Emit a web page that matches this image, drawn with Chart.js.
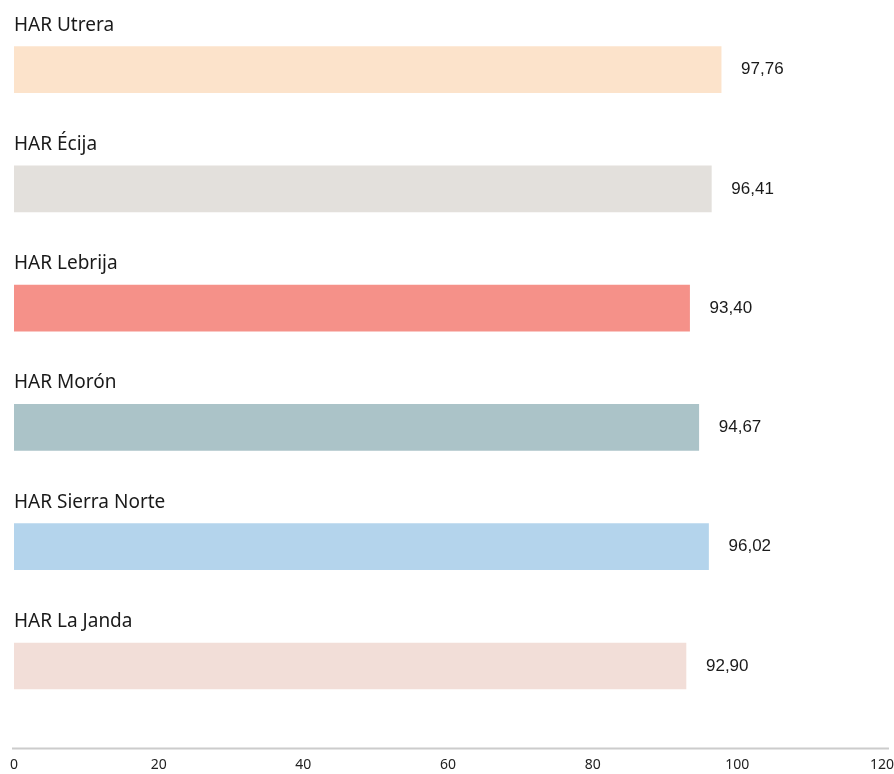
<!DOCTYPE html>
<html>
<head>
<meta charset="utf-8">
<script src="https://cdn.jsdelivr.net/npm/chart.js@4/dist/chart.umd.min.js"></script>
<style>
  html, body { margin: 0; padding: 0; background: #fff; }
  #wrap { width: 894px; height: 774px; }
</style>
</head>
<body>
<div id="wrap"><canvas id="har-chart" width="894" height="774"></canvas></div>
<script>
// data
var categories = ["HAR Utrera", "HAR Écija", "HAR Lebrija", "HAR Morón", "HAR Sierra Norte", "HAR La Janda"];
var values = [97.76, 96.41, 93.40, 94.67, 96.02, 92.90];
var xTicks = [0, 20, 40, 60, 80, 100, 120];

var barColors = ["#fce3cb", "#e3e0dc", "#f59189", "#abc3c8", "#b4d4ec", "#f2ded8"];

function fmt(v) {
  return v.toFixed(2).replace(".", ",");
}

/**
 * Labels - category name above each bar, value to its right.
 */
var barLabels = {
  id: "barLabels",
  afterDatasetsDraw: function (chart) {
    var ctx = chart.ctx;
    var area = chart.chartArea;
    var meta = chart.getDatasetMeta(0);
    ctx.save();
    meta.data.forEach(function (bar, i) {
      var half = bar.height / 2;
      ctx.fillStyle = "#1a1a1a";
      ctx.font = "19px 'Noto Sans', 'Open Sans', sans-serif";
      ctx.textAlign = "left";
      ctx.textBaseline = "alphabetic";
      ctx.fillText(categories[i], area.left, bar.y - half - 16);

      ctx.font = "17px 'Liberation Sans', Arial, sans-serif";
      ctx.textBaseline = "middle";
      ctx.fillText(fmt(values[i]), bar.x + 20, bar.y);
    });
    // axis rule sits a little below the last bar band
    ctx.strokeStyle = "#cccccc";
    ctx.lineWidth = 2;
    ctx.beginPath();
    ctx.moveTo(area.left - 2, area.bottom + 23);
    ctx.lineTo(area.right + 7, area.bottom + 23);
    ctx.stroke();
    ctx.restore();
  }
};

var ctx = document.getElementById("har-chart").getContext("2d");

var harChart = new Chart(ctx, {
  type: "bar",
  data: {
    labels: categories,
    datasets: [{
      data: values,
      backgroundColor: barColors,
      borderWidth: 0,
      barThickness: 46
    }]
  },
  options: {
    indexAxis: "y",
    responsive: false,
    animation: false,
    layout: { padding: { left: 14, right: 12, top: 10, bottom: 0 } },
    plugins: {
      legend: { display: false },
      tooltip: { enabled: false }
    },
    scales: {
      y: { display: false },
      x: {
        min: 0,
        max: 120,
        afterBuildTicks: function (scale) {
          scale.ticks = xTicks.map(function (v) { return { value: v }; });
        },
        afterFit: function (scale) { scale.height = 48.4; },
        grid: { display: false, drawTicks: true, tickLength: 31 },
        border: { display: false },
        ticks: {
          padding: 0,
          color: "#222",
          font: { family: "'Noto Sans', 'Open Sans', sans-serif", size: 14 }
        }
      }
    }
  },
  plugins: [barLabels]
});
</script>
</body>
</html>
